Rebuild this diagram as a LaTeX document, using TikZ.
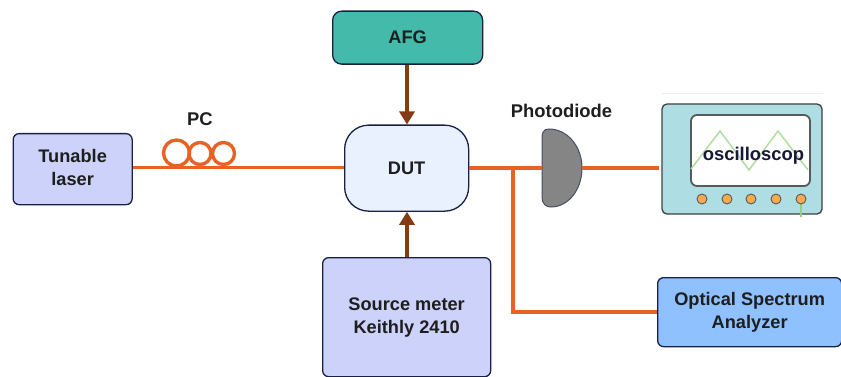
\documentclass[tikz,border=0pt]{standalone}
\usepackage{fontspec}
\setmainfont{Liberation Sans}
\usetikzlibrary{arrows.meta}
\definecolor{fib}{RGB}{232,98,38}
\definecolor{brn}{RGB}{133,60,20}
\definecolor{edge}{RGB}{26,32,68}
\definecolor{txt}{RGB}{30,30,30}
\tikzset{
  box/.style={draw=edge,line width=1.3pt,rounded corners=6pt,inner sep=0pt,font=\bfseries\fontsize{18.2}{23.5}\selectfont,text=txt,align=center,anchor=north west},
  fiber/.style={draw=fib,line width=3.6pt},
  ctl/.style={draw=brn,line width=4.6pt,-{Triangle[length=13pt,width=15pt]}},
  lab/.style={font=\bfseries\fontsize{18.4}{20}\selectfont,text=txt,inner sep=0pt}
}
\begin{document}
\begin{tikzpicture}[x=1pt,y=-1pt]
\useasboundingbox (0,0) rectangle (841,377);
\node[box,fill={rgb,255:red,204;green,210;blue,250},minimum width=119pt,minimum height=71pt] (laser) at (12.5,133) {\raisebox{3pt}{Tunable}\\\raisebox{3pt}{laser}};
\node[box,fill={rgb,255:red,68;green,186;blue,170},minimum width=150pt,minimum height=53pt,rounded corners=9pt] (afg) at (332,10.5) {AFG};
\node[box,fill={rgb,255:red,234;green,241;blue,254},minimum width=124pt,minimum height=86pt,rounded corners=24pt] (dut) at (344,124.5) {DUT};
\node[box,fill={rgb,255:red,204;green,210;blue,250},minimum width=168pt,minimum height=119pt] (src) at (322,257) {\raisebox{-3pt}{Source meter}\\[-0.5pt]\raisebox{-3pt}{Keithly 2410}};
\node[box,fill={rgb,255:red,143;green,192;blue,255},minimum width=184pt,minimum height=69pt] (osa) at (657,277) {\raisebox{-2pt}{Optical Spectrum}\\[-1pt]\raisebox{-2pt}{Analyzer}};
% oscilloscope
\fill[black!7] (662,93) rectangle (823,94);
\fill[white] (662,94) rectangle (823,217);
\draw[draw=black!75,line width=1.3pt,fill={rgb,255:red,174;green,221;blue,228},rounded corners=5pt] (662,104) rectangle (822,214);
\draw[draw=black!65,line width=1.8pt,fill=white,rounded corners=6pt] (691,115) rectangle (810,186);
\draw[draw={rgb,255:red,176;green,222;blue,160},line width=1.5pt] (691,169)--(720,131)--(749,170)--(778,131)--(808,170);
\draw[draw={rgb,255:red,150;green,205;blue,130},line width=1.5pt] (801,204)--(801,217);
\foreach \kx in {702,727,751,776,801}
  \draw[draw=black!65,line width=0.9pt,fill={rgb,255:red,245;green,170;blue,80}] (\kx,199) circle (5);
\node[lab,text=edge!80!black] (osc) at (753.5,156) {oscilloscop};
% photodiode
\draw[draw=edge!80,line width=1pt,fill={rgb,255:red,133;green,133;blue,133}] (549,129) .. controls (543,129) and (542,133) .. (542,139) -- (542,197) .. controls (542,204) and (546,207) .. (551,207) .. controls (568,207) and (582,190) .. (582,168) .. controls (582,146) and (567,129) .. (549,129) -- cycle;
\coordinate (pdin) at (542,168);
\coordinate (pdout) at (582,168);
\coordinate (oscin) at (659,168);
\coordinate (tee) at (513,168);
\coordinate (corner) at (513,312);
\path[fiber] (laser.east |- 0,167.5) -- (dut.west |- 0,167.5);
\path[fiber] (dut.east |- 0,168) -- (pdin);
\path[fiber] (pdout) -- (oscin);
\path[fiber] (tee) -- (corner) -- (osa.west |- corner);
\draw[draw=fib,line width=3.4pt] (176.5,153) circle (13);
\draw[draw=fib,line width=3.4pt] (200,153.5) circle (11);
\draw[draw=fib,line width=3.4pt] (223.5,153.5) circle (11);
\path[ctl] (afg.south -| 407,0) -- (dut.north -| 407,0);
\path[ctl] (src.north -| 407,0) -- (dut.south -| 407,0);
\node[lab] (pc) at (200,119) {PC};
\node[lab] (pdl) at (561.5,111) {Photodiode};
\end{tikzpicture}
\end{document}
